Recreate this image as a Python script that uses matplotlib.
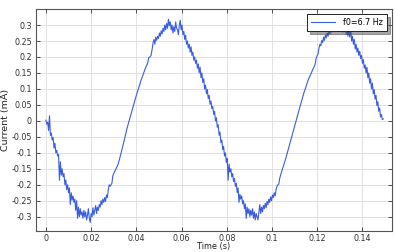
import matplotlib
matplotlib.use("Agg")
import matplotlib.pyplot as plt

time_s = [
    0.0000, 0.0004, 0.0008, 0.0012, 0.0016, 0.0020, 0.0024, 0.0028, 0.0032, 0.0036,
    0.0040, 0.0044, 0.0048, 0.0052, 0.0056, 0.0060, 0.0064, 0.0068, 0.0072, 0.0076,
    0.0080, 0.0084, 0.0088, 0.0092, 0.0096, 0.0100, 0.0104, 0.0108, 0.0112, 0.0116,
    0.0120, 0.0124, 0.0128, 0.0132, 0.0136, 0.0140, 0.0144, 0.0148, 0.0152, 0.0156,
    0.0160, 0.0164, 0.0168, 0.0172, 0.0176, 0.0180, 0.0184, 0.0188, 0.0192, 0.0196,
    0.0200, 0.0204, 0.0208, 0.0212, 0.0216, 0.0220, 0.0224, 0.0228, 0.0232, 0.0236,
    0.0240, 0.0244, 0.0248, 0.0252, 0.0256, 0.0260, 0.0264, 0.0268, 0.0272, 0.0276,
    0.0280, 0.0284, 0.0288, 0.0292, 0.0296, 0.0300,
    0.032, 0.034, 0.036, 0.038, 0.040, 0.042, 0.044, 0.045, 0.0455, 0.046, 0.0465,
    0.0470, 0.0474, 0.0478, 0.0482, 0.0486, 0.0490, 0.0494, 0.0498, 0.0502, 0.0506,
    0.0510, 0.0514, 0.0518, 0.0522, 0.0526, 0.0530, 0.0534, 0.0538, 0.0542, 0.0546,
    0.0550, 0.0554, 0.0558, 0.0562, 0.0566, 0.0570, 0.0574, 0.0578, 0.0582, 0.0586,
    0.0590, 0.0594, 0.0598, 0.0602, 0.0606, 0.0610, 0.0614, 0.0618, 0.0622, 0.0626,
    0.0630, 0.0634, 0.0638, 0.0642, 0.0646, 0.0650, 0.0654, 0.0658, 0.0662, 0.0666,
    0.0670, 0.0674, 0.0678, 0.0682, 0.0686, 0.0690, 0.0694, 0.0698, 0.0702, 0.0706,
    0.0710, 0.0714, 0.0718, 0.0722, 0.0726, 0.0730, 0.0734, 0.0738, 0.0742, 0.0746,
    0.0750, 0.0754, 0.0758, 0.0762, 0.0766, 0.0770, 0.0774, 0.0778, 0.0782, 0.0786,
    0.0790, 0.0794, 0.0798, 0.0802, 0.0806, 0.0810, 0.0814, 0.0818, 0.0822, 0.0826,
    0.0830, 0.0834, 0.0838, 0.0842, 0.0846, 0.0850, 0.0854, 0.0858, 0.0862, 0.0866,
    0.0870, 0.0874, 0.0878, 0.0882, 0.0886, 0.0890, 0.0894, 0.0898, 0.0902, 0.0906,
    0.0910, 0.0914, 0.0918, 0.0922, 0.0926, 0.0930, 0.0934, 0.0938, 0.0942, 0.0946,
    0.0950, 0.0954, 0.0958, 0.0962, 0.0966, 0.0970, 0.0974, 0.0978, 0.0982, 0.0986,
    0.0990, 0.0994, 0.0998, 0.1002, 0.1006, 0.1010, 0.1014, 0.1018, 0.1022, 0.1026,
    0.1030, 0.1034, 0.1038, 0.1042,
    0.106, 0.108, 0.110, 0.112, 0.114, 0.116, 0.118, 0.119, 0.1195, 0.120,
    0.1204, 0.1208, 0.1212, 0.1216, 0.1220, 0.1224, 0.1228, 0.1232, 0.1236, 0.1240,
    0.1244, 0.1248, 0.1252, 0.1256, 0.1260, 0.1264, 0.1268, 0.1272, 0.1276, 0.1280,
    0.1284, 0.1288, 0.1292, 0.1296, 0.1300, 0.1304, 0.1308, 0.1312, 0.1316, 0.1320,
    0.1324, 0.1328, 0.1332, 0.1336, 0.1340, 0.1344, 0.1348, 0.1352, 0.1356, 0.1360,
    0.1364, 0.1368, 0.1372, 0.1376, 0.1380, 0.1384, 0.1388, 0.1392, 0.1396, 0.1400,
    0.1404, 0.1408, 0.1412, 0.1416, 0.1420, 0.1424, 0.1428, 0.1432, 0.1436, 0.1440,
    0.1444, 0.1448, 0.1452, 0.1456, 0.1460, 0.1464, 0.1468, 0.1472, 0.1476, 0.1480,
    0.1484, 0.1488, 0.1492,
]

current_mA = [
    0.002, -0.010, -0.004, -0.030, 0.016, -0.045, -0.038, -0.060, -0.052, -0.085,
    -0.070, -0.100, -0.092, -0.110, -0.105, -0.186, -0.128, -0.170, -0.150, -0.175,
    -0.165, -0.200, -0.185, -0.215, -0.200, -0.225, -0.210, -0.262, -0.225, -0.248,
    -0.235, -0.255, -0.245, -0.280, -0.250, -0.305, -0.270, -0.300, -0.275, -0.295,
    -0.285, -0.305, -0.280, -0.300, -0.285, -0.310, -0.295, -0.275, -0.305, -0.318,
    -0.290, -0.300, -0.272, -0.295, -0.280, -0.265, -0.290, -0.270, -0.280, -0.262,
    -0.270, -0.250, -0.262, -0.245, -0.255, -0.240, -0.252, -0.232, -0.240, -0.215,
    -0.200, -0.205, -0.200, -0.195, -0.172, -0.165,
    -0.135, -0.080, -0.020, 0.030, 0.080, 0.125, 0.165, 0.180, 0.198, 0.200, 0.205,
    0.225, 0.245, 0.255, 0.240, 0.262, 0.252, 0.265, 0.258, 0.275, 0.265,
    0.282, 0.272, 0.290, 0.280, 0.300, 0.285, 0.305, 0.290, 0.318, 0.298,
    0.310, 0.285, 0.300, 0.275, 0.295, 0.280, 0.310, 0.290, 0.285, 0.270,
    0.300, 0.315, 0.285, 0.300, 0.270, 0.280, 0.255, 0.268, 0.240, 0.250,
    0.228, 0.240, 0.215, 0.232, 0.205, 0.215, 0.190, 0.200, 0.180, 0.190,
    0.165, 0.178, 0.150, 0.168, 0.135, 0.150, 0.120, 0.132, 0.100, 0.112,
    0.085, 0.098, 0.070, 0.080, 0.052, 0.062, 0.038, 0.045, 0.020, 0.030,
    0.000, 0.010, -0.020, -0.012, -0.045, -0.035, -0.068, -0.060, -0.090, -0.080,
    -0.110, -0.100, -0.130, -0.118, -0.186, -0.135, -0.160, -0.150, -0.175, -0.165,
    -0.190, -0.180, -0.205, -0.195, -0.225, -0.210, -0.255, -0.230, -0.245, -0.235,
    -0.260, -0.250, -0.275, -0.260, -0.305, -0.270, -0.290, -0.275, -0.300, -0.280,
    -0.295, -0.275, -0.305, -0.285, -0.310, -0.290, -0.300, -0.310, -0.285, -0.262,
    -0.290, -0.270, -0.285, -0.265, -0.275, -0.258, -0.272, -0.252, -0.262, -0.245,
    -0.255, -0.238, -0.250, -0.232, -0.240, -0.225, -0.235, -0.215, -0.205, -0.200,
    -0.198, -0.180, -0.170, -0.160,
    -0.120, -0.068, -0.015, 0.035, 0.085, 0.128, 0.160, 0.175, 0.195, 0.205,
    0.210, 0.228, 0.240, 0.235, 0.252, 0.245, 0.262, 0.252, 0.268, 0.260,
    0.275, 0.265, 0.282, 0.272, 0.288, 0.278, 0.292, 0.282, 0.298, 0.285,
    0.295, 0.280, 0.298, 0.285, 0.300, 0.282, 0.295, 0.278, 0.298, 0.280,
    0.292, 0.270, 0.288, 0.265, 0.285, 0.262, 0.290, 0.250, 0.265, 0.240,
    0.255, 0.225, 0.240, 0.215, 0.228, 0.205, 0.218, 0.195, 0.205, 0.180,
    0.192, 0.165, 0.175, 0.150, 0.168, 0.135, 0.150, 0.118, 0.132, 0.100,
    0.118, 0.085, 0.098, 0.068, 0.080, 0.048, 0.060, 0.030, 0.040, 0.012,
    0.020, 0.004, 0.006,
]

x_ticks = [0, 0.02, 0.04, 0.06, 0.08, 0.1, 0.12, 0.14]
x_tick_labels = ["0", "0.02", "0.04", "0.06", "0.08", "0.1", "0.12", "0.14"]
y_ticks = [-0.3, -0.25, -0.2, -0.15, -0.1, -0.05, 0, 0.05, 0.1, 0.15, 0.2, 0.25, 0.3]
y_tick_labels = ["-0.3", "-0.25", "-0.2", "-0.15", "-0.1", "-0.05", "0",
                 "0.05", "0.1", "0.15", "0.2", "0.25", "0.3"]
legend_label = "f0=6.7 Hz"

fig = plt.figure(figsize=(3.95, 2.52), dpi=100)
ax = fig.add_axes([0.091, 0.083, 0.901, 0.881])

ax.plot(time_s, current_mA, color="#3a5ce0", linewidth=0.8, label=legend_label)

ax.set_xlim(-0.0044, 0.1530)
ax.set_ylim(-0.345, 0.350)
ax.set_xticks(x_ticks)
ax.set_xticklabels(x_tick_labels)
ax.set_yticks(y_ticks)
ax.set_yticklabels(y_tick_labels)
ax.grid(True, color="#e2e2e2", linewidth=0.7)
ax.set_axisbelow(True)
ax.tick_params(direction="in", length=3, width=0.6, labelsize=5.8,
               colors="#333333", top=True, right=True, pad=3)
ax.tick_params(axis="x", pad=1.8)
for s in ax.spines.values():
    s.set_color("#555555")
    s.set_linewidth(0.8)

xl = ax.set_xlabel("Time (s)", fontsize=5.9, color="#222222")
yl = ax.set_ylabel("Current (mA)", fontsize=6.8, color="#222222")
xl.set_verticalalignment("center")
yl.set_verticalalignment("center")
# label centres: x label at y=246 px, y label at x=6 px
ax.xaxis.set_label_coords(0.5, (231 - 246) / 222)
ax.yaxis.set_label_coords((6 - 36) / 356, 0.5)

leg = ax.legend(loc="upper right", fontsize=5.8, frameon=True, fancybox=False,
                shadow=True, borderaxespad=0.6, handlelength=3.0,
                borderpad=0.5, handletextpad=1.0)
leg.get_frame().set_edgecolor("#222222")
leg.get_frame().set_linewidth(0.7)

fig.savefig("out.png", dpi=100)
